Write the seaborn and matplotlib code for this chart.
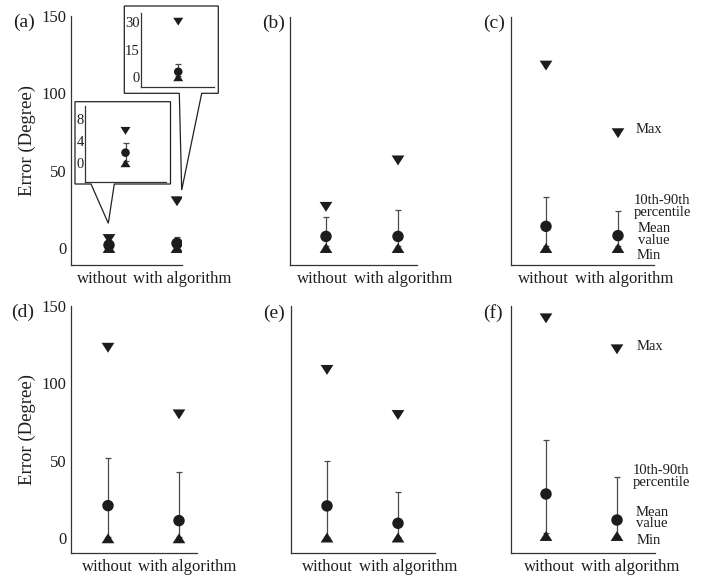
import numpy as np
import pandas as pd
import matplotlib
matplotlib.use("Agg")
import matplotlib.pyplot as plt
import seaborn as sns
from matplotlib.markers import MarkerStyle
from matplotlib.patches import Polygon

# ---------------- data ----------------
categories = ["without", "with algorithm"]
panel_labels = ["(a)", "(b)", "(c)", "(d)", "(e)", "(f)"]
max_without = [5.8, 26.6, 117.9, 123.0, 108.7, 142.0]
max_with = [30.2, 56.6, 74.2, 80.0, 79.6, 122.0]
p90_without = [3.7, 20.0, 32.7, 51.6, 49.9, 63.5]
p90_with = [7.2, 24.7, 24.1, 42.6, 30.1, 39.8]
mean_without = [1.9, 7.5, 14.0, 21.1, 20.9, 28.6]
mean_with = [3.0, 7.5, 8.0, 11.4, 9.7, 11.8]
p10_without = [0.5, 1.0, 1.0, 1.0, 1.0, 3.2]
p10_with = [0.5, 1.0, 1.0, 1.0, 1.0, 1.5]
min_without = [0.0, 0.0, 0.0, 0.0, 0.5, 1.5]
min_with = [0.0, 0.0, 0.0, 0.0, 0.5, 1.5]
y_ticks = [0, 50, 100, 150]
inset_without_ticks = [0, 4, 8]
inset_with_ticks = [0, 15, 30]
key_labels = ["Max", "10th-90th\npercentile", "Mean\nvalue", "Min"]
y_label = "Error (Degree)"

# ---------------- style ----------------
sns.set_style("white")
plt.rcParams["font.family"] = ["Liberation Serif", "DejaVu Serif"]
TXT = "#1e1e1e"
MARK = "#1c1c1c"
LINE = "#4a4a4a"
SPINE = "#333333"

W, H = 706, 577
fig = plt.figure(figsize=(W / 100, H / 100), dpi=100)
fig.patch.set_facecolor("white")

down_tri = MarkerStyle([(-1, 0.78), (1, 0.78), (0, -0.78)])
up_tri = MarkerStyle([(-1, -0.78), (1, -0.78), (0, 0.78)])


def px_axes(L, R, T, B, z=0):
    ax = fig.add_axes([L / W, 1 - B / H, (R - L) / W, (B - T) / H], zorder=z)
    ax.set_facecolor("none")
    for s in ["top", "right"]:
        ax.spines[s].set_visible(False)
    for s in ["left", "bottom"]:
        ax.spines[s].set_color(SPINE)
        ax.spines[s].set_linewidth(0.9)
    return ax


def draw_stats(ax, xs, mx, mean, p10, p90, mn, tri_s, circ_s, cap=2.5):
    mean = np.asarray(mean, float)
    ax.errorbar(xs, mean, yerr=[mean - np.asarray(p10), np.asarray(p90) - mean],
                fmt="none", ecolor=LINE, elinewidth=0.9, capsize=cap,
                capthick=0.9, zorder=1)
    sns.scatterplot(x=xs, y=mx, marker=down_tri, s=tri_s, color=MARK,
                    edgecolor="none", linewidth=0, ax=ax, zorder=3, legend=False)
    sns.scatterplot(x=xs, y=mn, marker=up_tri, s=tri_s, color=MARK,
                    edgecolor="none", linewidth=0, ax=ax, zorder=3, legend=False)
    sns.scatterplot(x=xs, y=list(mean), marker="o", s=circ_s, color=MARK,
                    edgecolor="none", linewidth=0, ax=ax, zorder=4, legend=False)
    ax.set_xlabel("")
    ax.set_ylabel("")


# pixel layout: L, R, T, B, c0, c1, y0(px of value 0), px per unit,
# tick-label centres (px)
layout = [
    (71, 182, 16, 265, 109, 177, 248.0, 1.547, (102, 182)),
    (290, 417, 17, 265, 326, 398, 248.0, 1.547, (322.5, 403.5)),
    (511, 654, 17, 265, 546, 618, 248.0, 1.547, (543.5, 624.5)),
    (71, 197, 305.5, 553.3, 108, 179, 538.3, 1.549, (107, 187)),
    (291, 435, 306, 553.3, 327, 398, 538.3, 1.549, (327, 408.5)),
    (511, 655, 306, 553.3, 546, 617, 538.3, 1.549, (549, 630)),
]

axes = []
for i, (L, R, T, B, c0, c1, y0, sc, lab_px) in enumerate(layout):
    ax = px_axes(L, R, T, B)
    d = c1 - c0
    xs = [0, 1]
    draw_stats(ax, xs, [max_without[i], max_with[i]],
               [mean_without[i], mean_with[i]],
               [p10_without[i], p10_with[i]],
               [p90_without[i], p90_with[i]],
               [min_without[i], min_with[i]], tri_s=84, circ_s=68)
    ax.set_xlim((L - c0) / d, (R - c0) / d)
    ax.set_ylim((y0 - B) / sc, (y0 - T) / sc)
    ax.set_xticks([(p - c0) / d for p in lab_px])
    ax.set_xticklabels(categories)
    ax.tick_params(axis="x", length=0, pad=4, labelsize=12, labelcolor=TXT)
    if i in (0, 3):
        ax.set_yticks(y_ticks)
        ax.set_yticklabels([str(t) for t in y_ticks])
        ax.tick_params(axis="y", length=0, pad=3, labelsize=12, labelcolor=TXT)
        ax.set_ylabel(y_label, fontsize=13.5, color=TXT)
        ax.yaxis.set_label_coords((36 - L) / (R - L), 0.5)
    else:
        ax.set_yticks([])
    axes.append(ax)

# panel labels
label_pos = [(24, 22), (274, 23), (494, 23), (23, 312), (273.5, 313), (493, 313)]
for lab, (x, y) in zip(panel_labels, label_pos):
    fig.text(x / W, 1 - y / H, lab, ha="center", va="center", fontsize=14, color=TXT)

# key annotations in (c) and (f)
key_pos = {
    2: [(1.25, 76.3, "left"), (1.61, 27.0, "center"), (1.50, 8.6, "center"), (1.26, -5.0, "left")],
    5: [(1.28, 123.7, "left"), (1.62, 39.8, "center"), (1.49, 13.1, "center"), (1.28, -1.5, "left")],
}
for idx, plist in key_pos.items():
    for (x, y, ha), txt in zip(plist, key_labels):
        axes[idx].text(x, y, txt, ha=ha, va="center", fontsize=10.5, color=TXT,
                       linespacing=0.88, multialignment="center", clip_on=False)

# overlay for callout bubbles
ov = fig.add_axes([0, 0, 1, 1], zorder=5)
ov.set_xlim(0, W)
ov.set_ylim(H, 0)
ov.axis("off")
bubble1 = [(75, 101.7), (170.5, 101.7), (170.5, 184), (114.3, 184), (108.3, 223.3),
           (91, 184), (75, 184)]
bubble2 = [(124.3, 6), (218.3, 6), (218.3, 93.3), (201.7, 93.3), (181.7, 190),
           (179.3, 93.3), (124.3, 93.3)]
for b in (bubble1, bubble2):
    ov.add_patch(Polygon(b, closed=True, facecolor="white", edgecolor="#222222", lw=0.9))

# inset for "without" in (a)
in1 = px_axes(85, 166, 106, 181.7, z=6)
draw_stats(in1, [0], [max_without[0]], [mean_without[0]], [p10_without[0]],
           [p90_without[0]], [min_without[0]], tri_s=52, circ_s=38, cap=2.3)
in1.set_xlim(-0.5, 0.5)
in1.set_ylim((163.3 - 181.7) / 5.6, (163.3 - 106) / 5.6)
in1.set_xticks([])
in1.set_yticks(inset_without_ticks)
in1.set_yticklabels([str(t) for t in inset_without_ticks])
in1.tick_params(axis="y", length=0, pad=1, labelsize=10.5, labelcolor=TXT)

# inset for "with algorithm" in (a)
in2 = px_axes(141, 214, 12.7, 87.3, z=6)
draw_stats(in2, [0], [max_with[0]], [mean_with[0]], [p10_with[0]],
           [p90_with[0]], [min_with[0]], tri_s=52, circ_s=38, cap=2.3)
in2.set_xlim(-0.51, 0.49)
in2.set_ylim((77.3 - 87.3) / 1.842, (77.3 - 12.7) / 1.842)
in2.set_xticks([])
in2.set_yticks(inset_with_ticks)
in2.set_yticklabels([str(t) for t in inset_with_ticks])
in2.tick_params(axis="y", length=0, pad=1, labelsize=10.5, labelcolor=TXT)

fig.savefig("out.png", dpi=100, facecolor="white")
